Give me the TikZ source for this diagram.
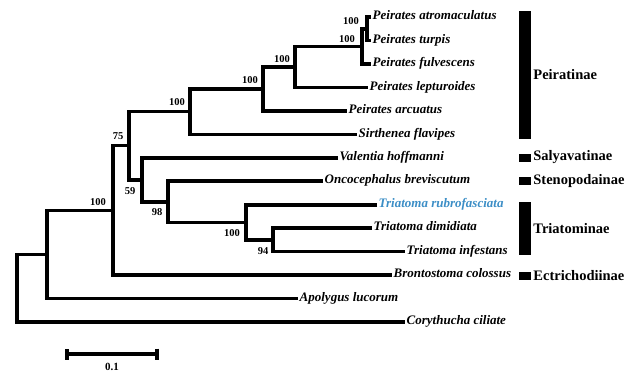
\documentclass[tikz,border=0pt]{standalone}
\usepackage{fontspec}
\setmainfont{Liberation Serif}
\usetikzlibrary{arrows.meta,positioning}
\definecolor{Ink}{HTML}{000000}
\definecolor{Query}{HTML}{3C8EC6}
\tikzset{
  branch/.style={draw=Ink,line width=3.6pt},
  tip/.style={anchor=west,inner xsep=1.5pt,inner ysep=0pt,text height=8pt,text depth=2.5pt,font=\fontsize{13}{15}\selectfont\bfseries\itshape},
  boot/.style={inner sep=0pt,font=\fontsize{10.5}{12}\selectfont\bfseries},
  bar/.style={fill=Ink,inner sep=0pt,minimum width=12pt},
  clade/.style={anchor=west,inner sep=1pt,font=\fontsize{14.5}{16}\selectfont\bfseries},
  scalebar/.style={draw=Ink,line width=3.6pt,{Bar[width=11pt,line width=4pt]}-{Bar[width=11pt,line width=4pt]}}
}
\begin{document}
\begin{tikzpicture}[x=1pt,y=-1pt]
  \useasboundingbox (0,0) rectangle (641,380);
  % tips
  \node[tip] (atro) at (371,17) {Peirates atromaculatus};
  \node[tip] (turp) at (371,40.5) {Peirates turpis};
  \node[tip] (fulv) at (371,63.9) {Peirates fulvescens};
  \node[tip] (lept) at (368,87.4) {Peirates lepturoides};
  \node[tip] (arcu) at (347,110.8) {Peirates arcuatus};
  \node[tip] (sirt) at (357,134.3) {Sirthenea flavipes};
  \node[tip] (vale) at (338,157.8) {Valentia hoffmanni};
  \node[tip] (onco) at (323,181.2) {Oncocephalus breviscutum};
  \node[tip,text=Query] (rubr) at (377,204.7) {Triatoma rubrofasciata};
  \node[tip] (dimi) at (372,228.1) {Triatoma dimidiata};
  \node[tip] (infe) at (405,251.6) {Triatoma infestans};
  \node[tip] (bron) at (392,275.1) {Brontostoma colossus};
  \node[tip] (apol) at (298,298.5) {Apolygus lucorum};
  \node[tip] (cory) at (405,322) {Corythucha ciliate};
  % inner nodes
  \coordinate (nA) at (367,28.7);
  \coordinate (nB) at (362,46.3);
  \coordinate (nC) at (295,66.8);
  \coordinate (nD) at (263,88.8);
  \coordinate (nE) at (190,111.5);
  \coordinate (nJ) at (273,239.8);
  \coordinate (nI) at (246,222.3);
  \coordinate (nH) at (168,201.7);
  \coordinate (nG) at (142,179.8);
  \coordinate (nF) at (129,145.6);
  \coordinate (nK) at (113,210.3);
  \coordinate (nL) at (47,254.4);
  \coordinate (root) at (17,288.2);
  % branches
  \draw[branch] (atro.west) -| (nA) |- (turp.west);
  \draw[branch] (nA) -| (nB) |- (fulv.west);
  \draw[branch] (nB) -| (nC) |- (lept.west);
  \draw[branch] (nC) -| (nD) |- (arcu.west);
  \draw[branch] (nD) -| (nE) |- (sirt.west);
  \draw[branch] (dimi.west) -| (nJ) |- (infe.west);
  \draw[branch] (rubr.west) -| (nI) |- (nJ);
  \draw[branch] (onco.west) -| (nH) |- (nI);
  \draw[branch] (vale.west) -| (nG) |- (nH);
  \draw[branch] (nE) -| (nF) |- (nG);
  \draw[branch] (nF) -| (nK) |- (bron.west);
  \draw[branch] (nK) -| (nL) |- (apol.west);
  \draw[branch] (nL) -| (root) |- (cory.west);
  % support values
  \node[boot] (bA) at (351,21) {100};
  \node[boot] (bB) at (347,39.5) {100};
  \node[boot] (bC) at (282,59) {100};
  \node[boot] (bD) at (250,80) {100};
  \node[boot] (bE) at (177,102) {100};
  \node[boot] (bF) at (118,136) {75};
  \node[boot] (bG) at (130,191) {59};
  \node[boot] (bH) at (157,212) {98};
  \node[boot] (bI) at (232,233) {100};
  \node[boot] (bJ) at (263,251) {94};
  \node[boot] (bK) at (98,202) {100};
  % subfamilies
  \node[bar,minimum height=128pt] (peirbar) at (525,75) {};
  \node[clade,right=1pt of peirbar] (peir) {Peiratinae};
  \node[bar,minimum height=8pt] (salybar) at (525,157.5) {};
  \node[clade,right=1pt of salybar] (saly) {Salyavatinae};
  \node[bar,minimum height=8pt] (stenbar) at (525,181) {};
  \node[clade,right=1pt of stenbar] (sten) {Stenopodainae};
  \node[bar,minimum height=53pt] (triabar) at (525,228.5) {};
  \node[clade,right=1pt of triabar] (tria) {Triatominae};
  \node[bar,minimum height=8pt] (ectrbar) at (525,276) {};
  \node[clade,right=1pt of ectrbar] (ectr) {Ectrichodiinae};
  % scale
  \coordinate (s0) at (65,354);
  \coordinate (s1) at (159,354);
  \draw[scalebar] (s0) -- (s1);
  \node[boot,font=\fontsize{11}{13}\selectfont\bfseries] (slabel) at (112,366.5) {0.1};
\end{tikzpicture}
\end{document}
